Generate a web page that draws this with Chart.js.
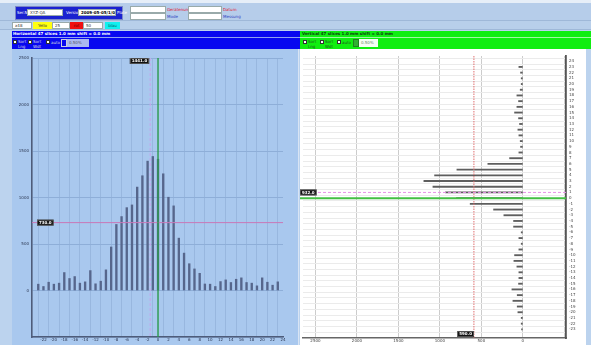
<!DOCTYPE html>
<html><head><meta charset="utf-8">
<script src="https://cdn.jsdelivr.net/npm/chart.js@4"></script>
<style>
html,body{margin:0;padding:0;}
body{width:591px;height:345px;background:#bcd3ee;position:relative;overflow:hidden;font-family:"DejaVu Sans",sans-serif;}
.a{position:absolute;box-sizing:border-box;}
.t{position:absolute;font-size:4px;line-height:5px;white-space:nowrap;}
.in{position:absolute;box-sizing:border-box;background:#fff;border:1px solid #9aa;font-size:4px;line-height:5px;padding-left:2px;color:#333;overflow:hidden;white-space:nowrap;}
.cb{position:absolute;width:4px;height:4px;background:#fff;border:1px solid #333;box-sizing:border-box;}
</style></head>
<body>
<div class="a" style="left:0;top:0;width:591px;height:3px;background:#e6eef8"></div>
<div class="a" style="left:0;top:3px;width:591px;height:18px;background:#b6cdea;border-bottom:1px solid #9fb8d8"></div>
<div class="a" style="left:0;top:21px;width:591px;height:9px;background:#b8cfea;border-bottom:1px solid #9fb8d8"></div>
<div class="a" style="left:15px;top:6px;width:108px;height:14px;background:#1a22d0;border:1px solid #7c88c8"></div>
<div class="t" style="left:17px;top:10px;color:#fff">Ser.Nr</div>
<div class="in" style="left:27px;top:9px;width:36px;height:7px">XYZ-QA</div>
<div class="t" style="left:66px;top:10px;color:#fff">Version</div>
<div class="in" style="left:78px;top:9px;width:38px;height:7px;color:#000;font-weight:bold">2009-05-05/1/0/1.2</div>
<div class="t" style="left:117px;top:10px;color:#fff">Plate</div>
<div class="in" style="left:130px;top:6px;width:36px;height:7px"></div>
<div class="in" style="left:130px;top:13px;width:36px;height:7px"></div>
<div class="t" style="left:167px;top:7px;color:#e01030">Gerätenummer</div>
<div class="t" style="left:167px;top:14px;color:#3040c0">Mode</div>
<div class="in" style="left:188px;top:6px;width:34px;height:7px"></div>
<div class="in" style="left:188px;top:13px;width:34px;height:7px"></div>
<div class="t" style="left:223px;top:7px;color:#e01030">Datum</div>
<div class="t" style="left:223px;top:14px;color:#3040c0">Messung</div>
<div class="in" style="left:12px;top:22px;width:20px;height:7px">x48</div>
<div class="a" style="left:33px;top:22px;width:19px;height:7px;background:#ffff10;font-size:4px;line-height:7px;text-align:center;color:#333">Yello</div>
<div class="in" style="left:52px;top:22px;width:18px;height:7px">25</div>
<div class="a" style="left:70px;top:22px;width:13px;height:7px;background:#f01010;font-size:4px;line-height:7px;text-align:center;color:#600">rot</div>
<div class="in" style="left:83px;top:22px;width:20px;height:7px">50</div>
<div class="a" style="left:105px;top:22px;width:15px;height:7px;background:#10f0f0;font-size:4px;line-height:7px;text-align:center;color:#066">blau</div>

<div class="a" style="left:12px;top:31px;width:288px;height:6px;background:#0808f0"></div>
<div class="t" style="left:13px;top:31px;color:#fff;font-weight:bold">Horizontal 47 slices 1.0 mm shift = 0.0 mm</div>
<div class="a" style="left:12px;top:37px;width:288px;height:12px;background:#0808f0;border-top:1px solid #8fa0f0"></div>
<div class="cb" style="left:13px;top:40px"></div><div class="t" style="left:18px;top:39px;color:#ddd">Sort<br>Lng</div>
<div class="cb" style="left:28px;top:40px"></div><div class="t" style="left:33px;top:39px;color:#ddd">Sort<br>Wdt</div>
<div class="cb" style="left:46px;top:40px"></div><div class="t" style="left:51px;top:40px;color:#ddd">auto</div>
<div class="a" style="left:61px;top:39px;width:6px;height:8px;border:1px solid #ccd"></div>
<div class="a" style="left:67px;top:39px;width:22px;height:8px;background:#aab8f0;font-size:4px;line-height:8px;padding-left:2px;color:#556">0.50%</div>

<div class="a" style="left:300px;top:31px;width:291px;height:6px;background:#10ee10"></div>
<div class="t" style="left:302px;top:31px;color:#104010;font-weight:bold">Vertical 47 slices 1.0 mm shift = 0.0 mm</div>
<div class="a" style="left:300px;top:37px;width:291px;height:12px;background:#10ee10;border-top:1px solid #a0f8a0"></div>
<div class="cb" style="left:303px;top:40px"></div><div class="t" style="left:308px;top:39px;color:#205020">Sort<br>Lng</div>
<div class="cb" style="left:320px;top:40px"></div><div class="t" style="left:325px;top:39px;color:#205020">Sort<br>Wdt</div>
<div class="cb" style="left:337px;top:40px"></div><div class="t" style="left:342px;top:40px;color:#205020">auto</div>
<div class="a" style="left:353px;top:39px;width:6px;height:8px;border:1px solid #208020;background:#30b030"></div>
<div class="a" style="left:359px;top:39px;width:19px;height:8px;background:#f4fff4;font-size:4px;line-height:8px;padding-left:2px;color:#686">0.50%</div>

<div class="a" style="left:12px;top:49px;width:287px;height:296px;background:#a9c8ee;border-right:1px solid #d8e4f4"></div>
<div class="a" style="left:300px;top:49px;width:286px;height:296px;background:#fff"></div>

<div class="a" style="left:12px;top:50px;width:286px;height:295px"><canvas id="c1" width="286" height="295"></canvas></div>
<div class="a" style="left:300px;top:50px;width:286px;height:295px"><canvas id="c2" width="286" height="295"></canvas></div>

<script>
// ---- data ----
const slices = [-23,-22,-21,-20,-19,-18,-17,-16,-15,-14,-13,-12,-11,-10,-9,-8,-7,-6,-5,-4,-3,-2,-1,0,1,2,3,4,5,6,7,8,9,10,11,12,13,14,15,16,17,18,19,20,21,22,23];
const horizontalValues = [68,43,89,68,79,193,129,150,79,93,214,72,100,222,468,710,795,891,920,1112,1234,1391,1441,1412,1255,1003,910,563,402,288,232,185,70,68,43,96,114,86,121,136,86,79,50,136,89,57,93];
const verticalValues = [16,20,20,60,68,120,68,132,52,48,48,72,108,100,48,20,48,20,112,112,229,353,635,800,932,1084,1193,1064,795,422,160,48,28,32,48,60,40,52,100,72,52,72,32,20,20,28,48];
const valueTicks = [-500,0,500,1000,1500,2000,2500];
const hiddenValueTicks = [-500];
const hMarkerLevel = 730, hMarkerLabel = "730.0";
const hCursor = -1.5, hCenter = 0, hPeakLabel = "1441.0";
const vMarkerLevel = 590, vMarkerLabel = "590.0";
const vCursor = 1, vCenter = 0, vCursorLabel = "932.0";

const FONT = {family:"DejaVu Sans", size:4};

function labelBox(ctx, text, x, y, align){
  ctx.save();
  ctx.font = "bold 4px DejaVu Sans";
  const w = ctx.measureText(text).width + 4, h = 6;
  const left = align === 'right' ? x - w : x;
  ctx.fillStyle = "#111"; ctx.fillRect(left, y - h/2, w, h);
  ctx.strokeStyle = "#777"; ctx.lineWidth = 0.6; ctx.strokeRect(left+0.5, y - h/2 + 0.5, w-1, h-1);
  ctx.fillStyle = "#fff"; ctx.textBaseline = "middle"; ctx.fillText(text, left + 2, y + 0.3);
  ctx.restore();
}

const hOverlay = {
  id:'hOverlay',
  afterDatasetsDraw(chart){
    const {ctx, chartArea:a, scales:{x,y}} = chart;
    ctx.save();
    const py = y.getPixelForValue(hMarkerLevel);
    ctx.strokeStyle = "#c878b8"; ctx.lineWidth = 1;
    ctx.beginPath(); ctx.moveTo(a.left, py); ctx.lineTo(a.right, py); ctx.stroke();
    const cx = x.getPixelForValue(hCursor);
    ctx.strokeStyle = "#c4a8ec"; ctx.setLineDash([3,2]); ctx.lineWidth = 1.2;
    ctx.beginPath(); ctx.moveTo(cx, a.top); ctx.lineTo(cx, a.bottom); ctx.stroke();
    ctx.setLineDash([]);
    const gx = x.getPixelForValue(hCenter);
    ctx.strokeStyle = "#2a9a4a"; ctx.lineWidth = 1.4;
    ctx.beginPath(); ctx.moveTo(gx, a.top); ctx.lineTo(gx, a.bottom); ctx.stroke();
    ctx.restore();
    labelBox(ctx, hMarkerLabel, a.left + 5, py, 'left');
    labelBox(ctx, hPeakLabel, cx - 1, a.top + 3, 'right');
  }
};

const vOverlay = {
  id:'vOverlay',
  afterDatasetsDraw(chart){
    const {ctx, chartArea:a, scales:{x,y}} = chart;
    ctx.save();
    const rx = x.getPixelForValue(vMarkerLevel);
    ctx.strokeStyle = "#e07070"; ctx.lineWidth = 1; ctx.setLineDash([1.5,1]);
    ctx.beginPath(); ctx.moveTo(rx, a.top); ctx.lineTo(rx, a.bottom); ctx.stroke();
    const py = y.getPixelForValue(vCursor);
    ctx.strokeStyle = "#e890e8"; ctx.setLineDash([3,2]); ctx.lineWidth = 1;
    ctx.beginPath(); ctx.moveTo(a.left, py); ctx.lineTo(a.right, py); ctx.stroke();
    ctx.setLineDash([]);
    const gy = y.getPixelForValue(vCenter);
    ctx.strokeStyle = "#44c044"; ctx.lineWidth = 2;
    ctx.beginPath(); ctx.moveTo(a.left - 3, gy); ctx.lineTo(a.right, gy); ctx.stroke();
    ctx.restore();
    labelBox(ctx, vCursorLabel, a.left - 3, py, 'left');
    labelBox(ctx, vMarkerLabel, rx, a.bottom - 4, 'right');
  }
};

new Chart(document.getElementById('c1'), {
  type:'bar',
  data:{datasets:[{data: slices.map((s,i)=>({x:s, y:horizontalValues[i]})), backgroundColor:"#56668c", barThickness:1.7}]},
  options:{
    responsive:false, animation:false, events:[],
    layout:{padding:{top:8, right:15, left:0, bottom:0}},
    plugins:{legend:{display:false}, tooltip:{enabled:false}},
    scales:{
      x:{type:'linear', min:-24.2, max:24, offset:false,
         afterBuildTicks(s){ s.ticks = slices.filter(v=>v%2===0).concat([24]).map(v=>({value:v})); },
         afterFit(s){ s.height = 8; },
         ticks:{font:FONT, color:"#2a3550", padding:1, maxRotation:0, autoSkip:false, includeBounds:false},
         grid:{color:"#98b7df", lineWidth:1, drawTicks:false},
         border:{color:"#4e5c7a", width:1.6}},
      y:{type:'linear', min:-500, max:2500,
         afterBuildTicks(s){ s.ticks = valueTicks.map(v=>({value:v})); },
         afterFit(s){ s.width = 20; },
         ticks:{font:FONT, color:"#2a3550", padding:3, callback:v=>hiddenValueTicks.includes(v)?'':String(v)},
         grid:{color:"#8eaed8", lineWidth:1, drawTicks:false},
         border:{color:"#4e5c7a", width:1.6}}
    }
  },
  plugins:[hOverlay]
});

new Chart(document.getElementById('c2'), {
  type:'bar',
  data:{datasets:[{data: slices.map((s,i)=>({y:s, x:verticalValues[i]})), backgroundColor:"#5e5e5e", barThickness:1.2}]},
  options:{
    indexAxis:'y', responsive:false, animation:false, events:[],
    layout:{padding:{top:6, left:3, right:0, bottom:0}},
    plugins:{legend:{display:false}, tooltip:{enabled:false}},
    scales:{
      x:{type:'linear', reverse:true, min:-520, max:2650,
         afterBuildTicks(s){ s.ticks = valueTicks.map(v=>({value:v})); },
         afterFit(s){ s.height = 7; },
         ticks:{font:FONT, color:"#444", padding:1, maxRotation:0, callback:v=>hiddenValueTicks.includes(v)?'':String(v)},
         grid:{color:"#cccccc", lineWidth:1, drawTicks:false},
         border:{color:"#666", width:1.6}},
      y:{type:'linear', position:'right', min:-24, max:24.4,
         afterBuildTicks(s){ s.ticks = slices.concat([24]).map(v=>({value:v})); },
         afterFit(s){ s.width = 20; },
         ticks:{font:FONT, color:"#444", padding:3, autoSkip:false},
         grid:{color:"#ebebeb", lineWidth:1, drawTicks:false},
         border:{color:"#555", width:1.8}}
    }
  },
  plugins:[vOverlay]
});
</script>
</body></html>
